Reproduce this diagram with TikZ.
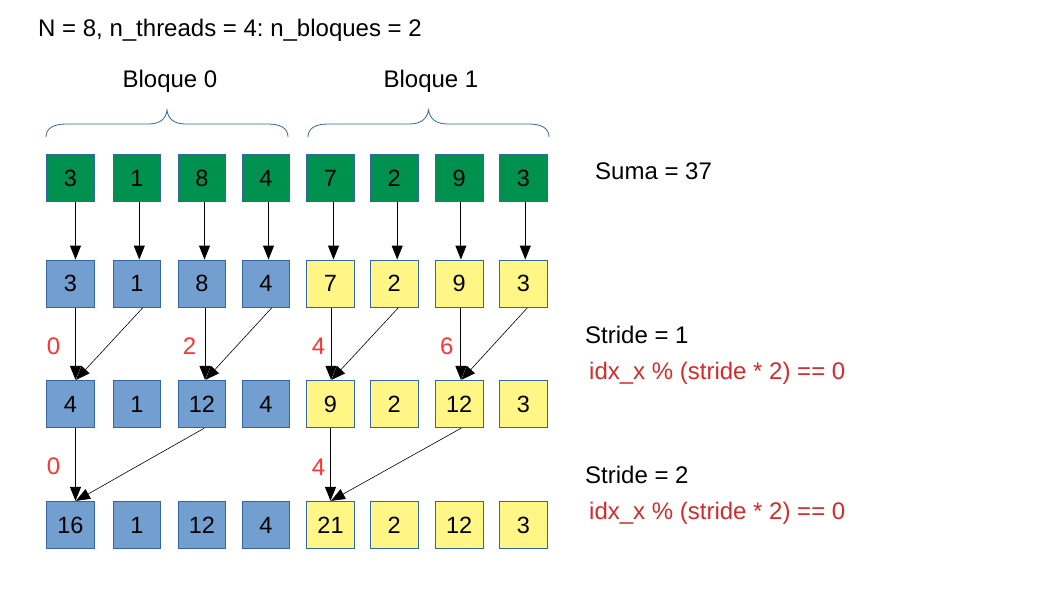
\documentclass[tikz,border=0pt]{standalone}
\usepackage{fontspec}
\setmainfont{Liberation Sans}
\usetikzlibrary{arrows.meta}
\frenchspacing
\definecolor{boxgreen}{HTML}{00914F}
\definecolor{boxblue}{HTML}{729FCF}
\definecolor{boxyellow}{HTML}{FFF685}
\definecolor{edgeblue}{HTML}{3465A4}
\definecolor{numred}{HTML}{FF3333}
\definecolor{condred}{HTML}{D42A2A}
\begin{document}
\begin{tikzpicture}[x=1pt,y=-1pt,
  cell/.style={draw=edgeblue,line width=0.8pt,minimum width=47.5pt,minimum height=47.5pt,inner sep=0pt,font=\fontsize{23.5}{28}\selectfont},
  gcell/.style={cell,fill=boxgreen},
  bcell/.style={cell,fill=boxblue},
  ycell/.style={cell,fill=boxyellow},
  txt/.style={inner sep=0pt,anchor=base west,font=\fontsize{24}{28}\selectfont},
  ctxt/.style={inner sep=0pt,anchor=base,font=\fontsize{24}{28}\selectfont},
  rtxt/.style={txt,text=numred},
  ctext/.style={txt,text=condred},
  vline/.style={-{Triangle[length=14pt,width=11pt]},line width=0.9pt,black},
  dline/.style={-{Triangle[length=14pt,width=11pt]},line width=0.6pt,black},
  brace/.style={draw=edgeblue,line width=0.8pt}
]
\useasboundingbox (0,0) rectangle (1058,595);

% title and labels
\node[txt] (title) at (38,36.5) {N = 8, n\_threads = 4: n\_bloques = 2};
\node[ctxt] (bq0) at (170,87) {Bloque 0};
\node[ctxt] (bq1) at (431,87) {Bloque 1};
\node[txt] (suma) at (595,179.3) {Suma = 37};
\node[txt] (s1) at (585,343.3) {Stride = 1};
\node[ctext] (c1) at (589,379.3) {idx\_x \% (stride * 2) == 0};
\node[txt] (s2) at (585,483.3) {Stride = 2};
\node[ctext] (c2) at (589,519.3) {idx\_x \% (stride * 2) == 0};

% braces
\draw[brace] (46,137) .. controls (46,128) and (54,124) .. (66,124) -- (148,124)
  .. controls (160,124) and (166,119) .. (167,110)
  .. controls (168,119) and (174,124) .. (186,124) -- (268,124)
  .. controls (280,124) and (288,128) .. (288,137);
\draw[brace] (308,137) .. controls (308,128) and (316,124) .. (328,124) -- (409,124)
  .. controls (421,124) and (427,119) .. (428.5,110)
  .. controls (430,119) and (436,124) .. (448,124) -- (529,124)
  .. controls (541,124) and (549,128) .. (549,137);

% cells
\foreach \x [count=\i] in {70.5,137,202,266,330.5,394.2,459.2,523.3}{
  \coordinate (col\i) at (\x,0);
}
\foreach \v [count=\i] in {3,1,8,4,7,2,9,3}{
  \node[gcell] (r1c\i) at ([yshift=-178pt]col\i) {\v};
}
\foreach \v [count=\i] in {3,1,8,4}{
  \node[bcell] (r2c\i) at ([yshift=-283.7pt]col\i) {\v};
}
\foreach \v [count=\i from 5] in {7,2,9,3}{
  \node[ycell] (r2c\i) at ([yshift=-283.7pt]col\i) {\v};
}
\foreach \v [count=\i] in {4,1,12,4}{
  \node[bcell] (r3c\i) at ([yshift=-404pt]col\i) {\v};
}
\foreach \v [count=\i from 5] in {9,2,12,3}{
  \node[ycell] (r3c\i) at ([yshift=-404pt]col\i) {\v};
}
\foreach \v [count=\i] in {16,1,12,4}{
  \node[bcell] (r4c\i) at ([yshift=-525pt]col\i) {\v};
}
\foreach \v [count=\i from 5] in {21,2,12,3}{
  \node[ycell] (r4c\i) at ([yshift=-525pt]col\i) {\v};
}

% row 1 -> row 2
\foreach \i/\s in {1/5,2/2.3,3/2.5,4/2.5,5/3,6/3,7/1.7,8/2}{
  \draw[vline] ([xshift=\s pt]r1c\i.south) -- ([xshift=\s pt]r2c\i.north);
}

% row 2 -> row 3
\draw[vline] ([xshift=5pt]r2c1.south) -- ([xshift=5pt]r3c1.north);
\draw[dline] ([xshift=5.7pt]r2c2.south) -- ([xshift=5.5pt]r3c1.north);
\draw[vline] ([xshift=3pt]r2c3.south) -- ([xshift=3pt]r3c3.north);
\draw[dline] ([xshift=5.7pt]r2c4.south) -- ([xshift=3.5pt]r3c3.north);
\draw[vline] ([xshift=0.5pt]r2c5.south) -- ([xshift=0.5pt]r3c5.north);
\draw[dline] ([xshift=4pt]r2c6.south) -- ([xshift=1pt]r3c5.north);
\draw[vline] ([xshift=1.7pt]r2c7.south) -- ([xshift=1.7pt]r3c7.north);
\draw[dline] ([xshift=4pt]r2c8.south) -- ([xshift=2.2pt]r3c7.north);

% row 3 -> row 4
\draw[vline] ([xshift=5pt]r3c1.south) -- ([xshift=5pt]r4c1.north);
\draw[dline] ([xshift=2.3pt]r3c3.south) -- ([xshift=5.5pt]r4c1.north);
\draw[vline] ([xshift=0pt]r3c5.south) -- ([xshift=0pt]r4c5.north);
\draw[dline] ([xshift=2pt]r3c7.south) -- ([xshift=0.5pt]r4c5.north);

% offsets
\node[rtxt] (o1) at (46.7,354) {0};
\node[rtxt] (o2) at (182.7,354) {2};
\node[rtxt] (o3) at (311.7,354) {4};
\node[rtxt] (o4) at (440,354) {6};
\node[rtxt] (o5) at (46.7,474) {0};
\node[rtxt] (o6) at (311.7,475) {4};
\end{tikzpicture}
\end{document}
